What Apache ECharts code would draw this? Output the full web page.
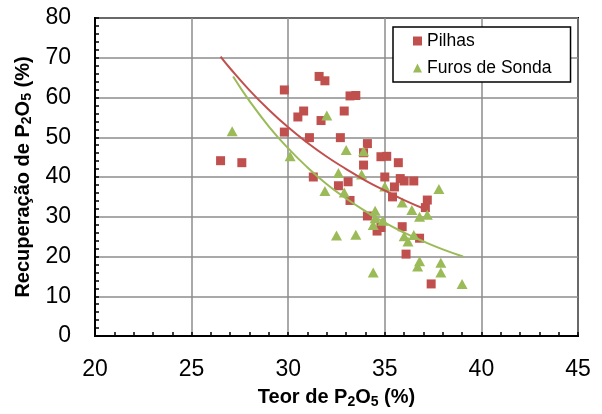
<!DOCTYPE html>
<html>
<head>
<meta charset="utf-8">
<script src="https://cdn.jsdelivr.net/npm/echarts@6/dist/echarts.min.js"></script>
<style>
  html, body { margin: 0; padding: 0; background: #fff; }
  #chart { width: 602px; height: 414px; }
</style>
</head>
<body>
<div id="chart"></div>
<script>
// Pilhas (quadrados vermelhos): [teor, recuperação]
const pilhas = [
  [26.5, 44.1], [27.6, 43.6], [29.8, 61.9], [31.6, 65.3], [31.9, 64.2],
  [33.2, 60.4], [33.5, 60.5], [30.8, 56.6], [30.5, 55.1], [32.9, 56.6],
  [31.7, 54.2], [29.8, 51.3], [31.1, 49.9], [32.7, 49.9], [34.1, 48.4],
  [33.9, 46.1], [34.8, 45.1], [35.1, 45.2], [35.7, 43.6], [33.9, 43.0],
  [31.3, 40.0], [35.0, 40.0], [35.8, 39.6], [36.0, 39.0], [36.5, 39.0],
  [35.5, 37.5], [35.4, 35.0], [33.1, 38.8], [32.6, 37.8], [33.2, 34.1],
  [37.2, 34.2], [37.1, 32.3], [34.1, 30.2], [34.6, 26.4], [34.8, 27.3],
  [35.9, 27.5], [36.8, 24.6], [36.1, 20.6], [37.4, 13.1]
];

// Furos de Sonda (triângulos verdes)
const furos = [
  [27.1, 51.5], [32.0, 55.5], [30.1, 45.2], [33.0, 46.8], [33.9, 46.5],
  [32.6, 41.0], [33.8, 40.6], [31.9, 36.5], [32.9, 36.1], [35.0, 37.6],
  [37.8, 37.0], [35.9, 33.6], [36.4, 31.7], [36.8, 30.0], [37.2, 30.5],
  [34.5, 31.5], [34.5, 29.6], [34.9, 29.0], [34.4, 27.9], [32.5, 25.3],
  [33.5, 25.5], [36.0, 25.1], [36.5, 25.4], [36.2, 23.8], [36.8, 18.8],
  [36.7, 17.5], [37.9, 18.4], [37.9, 16.0], [34.4, 16.0], [39.0, 13.1]
];

// linhas de tendência
const tendPilhas = [
  [26.5, 70.3], [27, 67.3], [28, 61.8], [29, 56.9], [30, 52.5], [31, 48.6],
  [32, 45.1], [33, 42.0], [34, 39.1], [35, 36.6], [36, 34.2], [37.1, 31.9]
];
const tendFuros = [
  [27.15, 65.3], [28, 59.1], [29, 52.7], [30, 47.2], [31, 42.4], [32, 38.2],
  [33, 34.6], [34, 31.4], [35, 28.5], [36, 26.0], [37, 23.8], [38, 21.8], [39.05, 20.0]
];

const nomes = ['Pilhas', 'Furos de Sonda'];
const RED = '#C0504D';
const GREEN = '#9BBB59';
const FONT = "'Liberation Sans', Arial, sans-serif";
const GRID_LINE = '#8c8c8c';

const chart = echarts.init(document.getElementById('chart'));

const tituloRich = {
  b: { fontSize: 20, fontWeight: 'bold', color: '#000', fontFamily: FONT, lineHeight: 22 },
  s: { fontSize: 14, fontWeight: 'bold', color: '#000', fontFamily: FONT, lineHeight: 22, verticalAlign: 'bottom', padding: [9, 0, 0, 0] }
};

const axisCommon = {
  axisLine: { show: true, onZero: false, lineStyle: { color: '#000', width: 2 } },
  axisTick: { show: true, inside: true, length: 4, lineStyle: { color: '#000', width: 1.5 } },
  minorTick: { show: true, splitNumber: 5, length: 4, lineStyle: { color: '#000', width: 1.5 } },
  axisLabel: { color: '#000', fontSize: 23, fontFamily: FONT },
  splitLine: { show: true, lineStyle: { color: GRID_LINE, width: 1.5 } }
};

chart.setOption({
  animation: false,
  backgroundColor: '#fff',
  textStyle: { fontFamily: FONT },
  grid: {
    left: 95, top: 18, width: 483, height: 318,
    show: true, borderColor: '#000', borderWidth: 2, backgroundColor: 'transparent'
  },
  legend: {
    data: [
      { name: nomes[0], icon: 'rect' },
      { name: nomes[1], icon: 'triangle' }
    ],
    orient: 'vertical',
    left: 393, top: 27,
    padding: [4, 19, 4, 20],
    itemWidth: 9, itemHeight: 9, itemGap: 7,
    backgroundColor: '#fff',
    borderColor: '#000', borderWidth: 1.5, borderRadius: 0,
    textStyle: { color: '#000', fontSize: 17.5, lineHeight: 20, fontFamily: FONT }
  },
  xAxis: {
    ...axisCommon,
    type: 'value', min: 20, max: 45, interval: 5,
    axisLabel: { ...axisCommon.axisLabel, margin: 22 },
    name: '{b|Teor de P}{s|2}{b|O}{s|5}{b| (%)}',
    nameLocation: 'middle', nameGap: 49,
    nameTextStyle: { rich: tituloRich }
  },
  yAxis: {
    ...axisCommon,
    type: 'value', min: 0, max: 80, interval: 10,
    axisLabel: { ...axisCommon.axisLabel, margin: 24 },
    name: '{b|Recuperação de P}{s|2}{b|O}{s|5}{b| (%)}',
    nameLocation: 'middle', nameGap: 61, nameRotate: 90,
    nameTextStyle: { rich: tituloRich }
  },
  series: [
    {
      name: nomes[0], type: 'scatter', data: pilhas,
      symbol: 'rect', symbolSize: 9,
      itemStyle: { color: RED, opacity: 1 }, z: 3
    },
    {
      name: nomes[1], type: 'scatter', data: furos,
      symbol: 'triangle', symbolSize: [11, 10],
      itemStyle: { color: GREEN, opacity: 1 }, z: 4
    },
    {
      name: 'tend-pilhas', type: 'line', data: tendPilhas,
      smooth: true, showSymbol: false, silent: true,
      lineStyle: { color: RED, width: 2 }, z: 5
    },
    {
      name: 'tend-furos', type: 'line', data: tendFuros,
      smooth: true, showSymbol: false, silent: true,
      lineStyle: { color: GREEN, width: 2 }, z: 5
    }
  ]
});
</script>
</body>
</html>
